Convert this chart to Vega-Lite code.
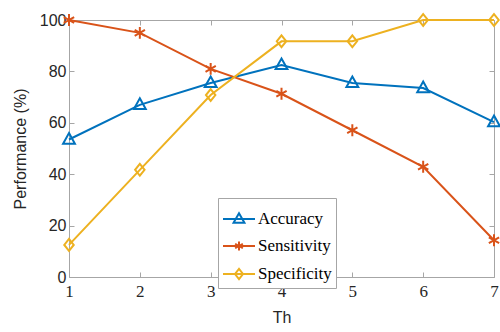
{
  "$schema": "https://vega.github.io/schema/vega-lite/v6.json",
  "width": 425,
  "height": 257,
  "autosize": "none",
  "padding": {"left": 69, "top": 20, "right": 6, "bottom": 55},
  "background": "white",
  "config": {"view": {"stroke": null}},
  "data": {"values": [
    {"Th": 1, "Metric": "Accuracy", "Value": 53.5},
    {"Th": 2, "Metric": "Accuracy", "Value": 67},
    {"Th": 3, "Metric": "Accuracy", "Value": 75.5},
    {"Th": 4, "Metric": "Accuracy", "Value": 82.5},
    {"Th": 5, "Metric": "Accuracy", "Value": 75.5},
    {"Th": 6, "Metric": "Accuracy", "Value": 73.5},
    {"Th": 7, "Metric": "Accuracy", "Value": 60.3},
    {"Th": 1, "Metric": "Sensitivity", "Value": 100},
    {"Th": 2, "Metric": "Sensitivity", "Value": 95},
    {"Th": 3, "Metric": "Sensitivity", "Value": 81},
    {"Th": 4, "Metric": "Sensitivity", "Value": 71.3},
    {"Th": 5, "Metric": "Sensitivity", "Value": 57.1},
    {"Th": 6, "Metric": "Sensitivity", "Value": 42.9},
    {"Th": 7, "Metric": "Sensitivity", "Value": 14.3},
    {"Th": 1, "Metric": "Specificity", "Value": 12.5},
    {"Th": 2, "Metric": "Specificity", "Value": 41.7},
    {"Th": 3, "Metric": "Specificity", "Value": 70.8},
    {"Th": 4, "Metric": "Specificity", "Value": 91.7},
    {"Th": 5, "Metric": "Specificity", "Value": 91.7},
    {"Th": 6, "Metric": "Specificity", "Value": 100},
    {"Th": 7, "Metric": "Specificity", "Value": 100}
  ]},
  "layer": [
    {
      "mark": {"type": "line", "strokeWidth": 2},
      "encoding": {
        "x": {"field": "Th", "type": "quantitative", "scale": {"domain": [1, 7], "nice": false},
          "axis": {"orient": "bottom", "values": [1,2,3,4,5,6,7], "format": "d", "grid": false,
            "title": "Th", "titleFont": "Liberation Sans", "titleFontSize": 16, "titleFontWeight": "normal", "titleColor": "#262626", "titlePadding": 10,
            "labelFont": "Liberation Serif", "labelFontSize": 17, "labelColor": "#262626", "labelPadding": 11,
            "domainColor": "#a6a6a6", "tickColor": "#a6a6a6", "tickSize": -5, "labelFlush": false}},
        "y": {"field": "Value", "type": "quantitative", "scale": {"domain": [0, 100], "nice": false},
          "axis": {"orient": "left", "values": [0,20,40,60,80,100], "grid": false,
            "title": "Performance (%)", "titleFont": "Liberation Sans", "titleFontSize": 16, "titleFontWeight": "normal", "titleColor": "#262626", "titlePadding": 11,
            "labelFont": "Liberation Sans", "labelFontSize": 16, "labelColor": "#262626", "labelPadding": 8,
            "domainColor": "#a6a6a6", "tickColor": "#a6a6a6", "tickSize": -5}},
        "color": {"field": "Metric", "type": "nominal",
          "scale": {"domain": ["Accuracy", "Sensitivity", "Specificity"], "range": ["#0072BD", "#D95319", "#EDB120"]},
          "legend": null}
      }
    },
    {
      "mark": {"type": "point", "filled": false, "strokeWidth": 2, "size": 140, "opacity": 1},
      "encoding": {
        "x": {"field": "Th", "type": "quantitative",
          "axis": {"orient": "top", "values": [1,2,3,4,5,6,7], "labels": false, "title": null, "grid": false,
            "domainColor": "#a6a6a6", "tickColor": "#a6a6a6", "tickSize": -5}},
        "y": {"field": "Value", "type": "quantitative",
          "axis": {"orient": "right", "values": [0,20,40,60,80,100], "labels": false, "title": null, "grid": false,
            "domainColor": "#a6a6a6", "tickColor": "#a6a6a6", "tickSize": -5}},
        "color": {"field": "Metric", "type": "nominal", "legend": null},
        "shape": {"field": "Metric", "type": "nominal",
          "scale": {"domain": ["Accuracy", "Sensitivity", "Specificity"],
            "range": ["M0,-1.1L1,0.7L-1,0.7Z", "M0,-1V1M-0.87,-0.5L0.87,0.5M-0.87,0.5L0.87,-0.5", "M0,-1L0.8,0L0,1L-0.8,0Z"]},
          "legend": null}
      }
    },
    {
      "mark": {"type": "point", "filled": false, "strokeWidth": 2, "opacity": 0},
      "encoding": {
        "x": {"field": "Th", "type": "quantitative", "axis": null},
        "y": {"field": "Value", "type": "quantitative", "axis": null},
        "color": {"field": "Metric", "type": "nominal", "legend": {
          "orient": "none", "legendX": 149, "legendY": 178, "title": null,
          "labelFont": "Liberation Serif", "labelFontSize": 17, "labelColor": "#000000",
          "symbolSize": 1024, "symbolStrokeWidth": 2, "symbolOpacity": 1, "symbolFillColor": "transparent",
          "strokeColor": "#a6a6a6", "fillColor": "white", "padding": 4, "rowPadding": 2, "labelOffset": 2}},
        "shape": {"field": "Metric", "type": "nominal",
          "scale": {"domain": ["Accuracy", "Sensitivity", "Specificity"],
            "range": ["M-1,0H1M0,-0.36L0.34,0.24H-0.34Z", "M-1,0H1M0,-0.28V0.28M-0.24,-0.14L0.24,0.14M-0.24,0.14L0.24,-0.14", "M-1,0H1M0,-0.32L0.25,0L0,0.32L-0.25,0Z"]},
          "legend": {
          "orient": "none", "legendX": 149, "legendY": 178, "title": null,
          "labelFont": "Liberation Serif", "labelFontSize": 17, "labelColor": "#000000",
          "symbolSize": 1024, "symbolStrokeWidth": 2, "symbolOpacity": 1, "symbolFillColor": "transparent",
          "strokeColor": "#a6a6a6", "fillColor": "white", "padding": 4, "rowPadding": 2, "labelOffset": 2}}
      }
    }
  ],
  "resolve": {"axis": {"x": "independent", "y": "independent"}, "scale": {"shape": "independent"}, "legend": {"color": "independent", "shape": "independent"}}
}
